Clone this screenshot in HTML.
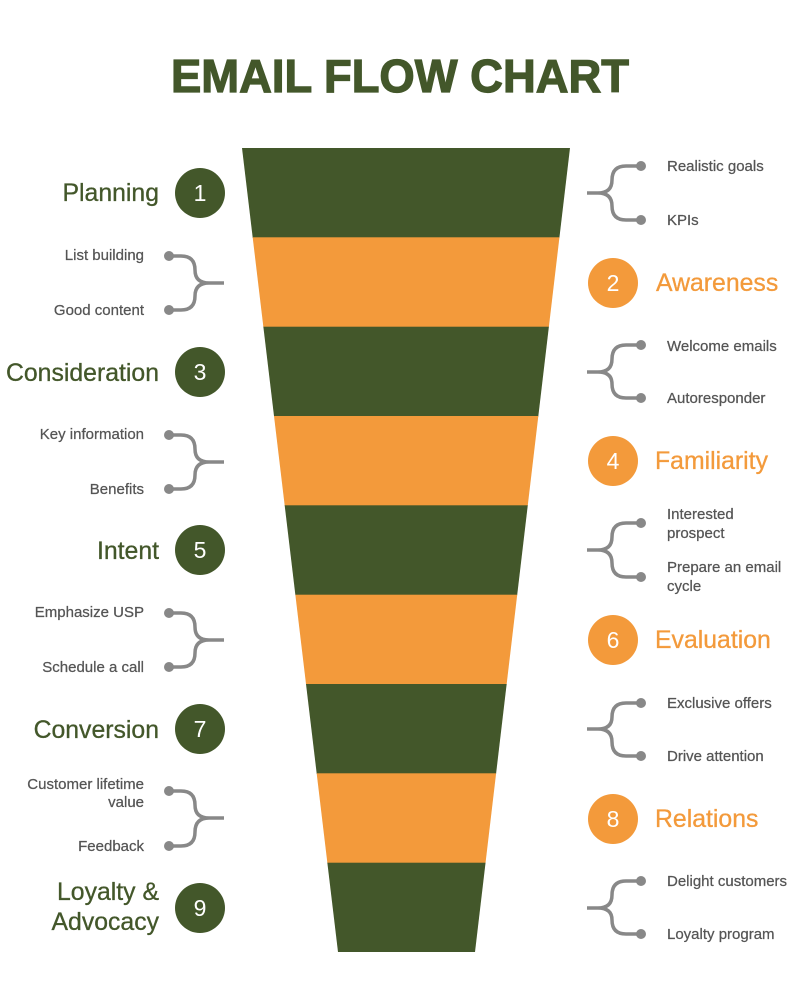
<!DOCTYPE html>
<html><head><meta charset="utf-8"><style>
html,body{margin:0;padding:0;background:#fff;}
svg{display:block;}
text{font-family:"Liberation Sans",sans-serif;}
.h{font-size:24.8px;}
.g{fill:#43572a;stroke:#43572a;stroke-width:0.3;}
.o{fill:#f39a3b;stroke:#f39a3b;stroke-width:0.3;}
.s{font-size:15px;fill:#555;stroke:#555;stroke-width:0.25;}
.n{font-size:23px;fill:#fff;text-anchor:middle;}
.b{fill:none;stroke:#888;stroke-width:3.5;}
.d{fill:#888;}
</style></head><body>
<svg width="800" height="1000" viewBox="0 0 800 1000">
<text x="400" y="92" text-anchor="middle" font-size="46" font-weight="bold" fill="#43572a" stroke="#43572a" stroke-width="1.2" textLength="458" lengthAdjust="spacingAndGlyphs">EMAIL FLOW CHART</text>
<defs><clipPath id="f"><polygon points="242,148 570,148 475,952 338,952"/></clipPath></defs>
<g clip-path="url(#f)">
<rect x="0" y="148" width="800" height="90" fill="#43572a"/>
<rect x="0" y="237.3" width="800" height="90" fill="#f39a3b"/>
<rect x="0" y="326.7" width="800" height="90" fill="#43572a"/>
<rect x="0" y="416" width="800" height="90" fill="#f39a3b"/>
<rect x="0" y="505.3" width="800" height="90" fill="#43572a"/>
<rect x="0" y="594.7" width="800" height="90" fill="#f39a3b"/>
<rect x="0" y="684" width="800" height="90" fill="#43572a"/>
<rect x="0" y="773.3" width="800" height="90" fill="#f39a3b"/>
<rect x="0" y="862.7" width="800" height="90" fill="#43572a"/>
</g>

<text class="h g" x="159" y="201" text-anchor="end">Planning</text>
<circle cx="200" cy="193" r="25" fill="#43572a"/><text class="n" x="200" y="201">1</text>
<text class="h g" x="159" y="381" text-anchor="end">Consideration</text>
<circle cx="200" cy="372" r="25" fill="#43572a"/><text class="n" x="200" y="380">3</text>
<text class="h g" x="159" y="559" text-anchor="end">Intent</text>
<circle cx="200" cy="550" r="25" fill="#43572a"/><text class="n" x="200" y="558">5</text>
<text class="h g" x="159" y="738" text-anchor="end">Conversion</text>
<circle cx="200" cy="729" r="25" fill="#43572a"/><text class="n" x="200" y="737">7</text>
<text class="h g" x="159" y="900" text-anchor="end">Loyalty &amp;</text>
<text class="h g" x="159" y="930" text-anchor="end">Advocacy</text>
<circle cx="200" cy="908" r="25" fill="#43572a"/><text class="n" x="200" y="916">9</text>

<circle cx="613" cy="283" r="25" fill="#f39a3b"/><text class="n" x="613" y="291">2</text>
<text class="h o" x="656" y="291">Awareness</text>
<circle cx="613" cy="461" r="25" fill="#f39a3b"/><text class="n" x="613" y="469">4</text>
<text class="h o" x="655" y="469">Familiarity</text>
<circle cx="613" cy="640" r="25" fill="#f39a3b"/><text class="n" x="613" y="648">6</text>
<text class="h o" x="655" y="648">Evaluation</text>
<circle cx="613" cy="819" r="25" fill="#f39a3b"/><text class="n" x="613" y="827">8</text>
<text class="h o" x="655" y="827">Relations</text>

<g>
<path class="b" d="M169,256 H181 Q195,256 195,270 Q195,283 209,283 H224 M169,310 H181 Q195,310 195,296 Q195,283 209,283"/>
<circle class="d" cx="169" cy="256" r="5"/><circle class="d" cx="169" cy="310" r="5"/>
<text class="s" x="144" y="260" text-anchor="end">List building</text>
<text class="s" x="144" y="315" text-anchor="end">Good content</text>

<path class="b" d="M169,435 H181 Q195,435 195,449 Q195,462 209,462 H224 M169,489 H181 Q195,489 195,475 Q195,462 209,462"/>
<circle class="d" cx="169" cy="435" r="5"/><circle class="d" cx="169" cy="489" r="5"/>
<text class="s" x="144" y="439" text-anchor="end">Key information</text>
<text class="s" x="144" y="494" text-anchor="end">Benefits</text>

<path class="b" d="M169,613 H181 Q195,613 195,627 Q195,640 209,640 H224 M169,667 H181 Q195,667 195,653 Q195,640 209,640"/>
<circle class="d" cx="169" cy="613" r="5"/><circle class="d" cx="169" cy="667" r="5"/>
<text class="s" x="144" y="617" text-anchor="end">Emphasize USP</text>
<text class="s" x="144" y="672" text-anchor="end">Schedule a call</text>

<path class="b" d="M169,791 H181 Q195,791 195,805 Q195,818 209,818 H224 M169,846 H181 Q195,846 195,832 Q195,818 209,818"/>
<circle class="d" cx="169" cy="791" r="5"/><circle class="d" cx="169" cy="846" r="5"/>
<text class="s" x="144" y="789" text-anchor="end">Customer lifetime</text>
<text class="s" x="144" y="807" text-anchor="end">value</text>
<text class="s" x="144" y="851" text-anchor="end">Feedback</text>
</g>

<g>
<path class="b" d="M641,166 H626 Q612,166 612,180 Q612,193 598,193 H587 M641,220 H626 Q612,220 612,206 Q612,193 598,193"/>
<circle class="d" cx="641" cy="166" r="5"/><circle class="d" cx="641" cy="220" r="5"/>
<text class="s" x="667" y="171">Realistic goals</text>
<text class="s" x="667" y="225">KPIs</text>

<path class="b" d="M641,345 H626 Q612,345 612,359 Q612,372 598,372 H587 M641,398 H626 Q612,398 612,384 Q612,372 598,372"/>
<circle class="d" cx="641" cy="345" r="5"/><circle class="d" cx="641" cy="398" r="5"/>
<text class="s" x="667" y="351">Welcome emails</text>
<text class="s" x="667" y="403">Autoresponder</text>

<path class="b" d="M641,523 H626 Q612,523 612,537 Q612,550 598,550 H587 M641,577 H626 Q612,577 612,563 Q612,550 598,550"/>
<circle class="d" cx="641" cy="523" r="5"/><circle class="d" cx="641" cy="577" r="5"/>
<text class="s" x="667" y="519">Interested</text>
<text class="s" x="667" y="538">prospect</text>
<text class="s" x="667" y="572">Prepare an email</text>
<text class="s" x="667" y="591">cycle</text>

<path class="b" d="M641,703 H626 Q612,703 612,717 Q612,729 598,729 H587 M641,756 H626 Q612,756 612,742 Q612,729 598,729"/>
<circle class="d" cx="641" cy="703" r="5"/><circle class="d" cx="641" cy="756" r="5"/>
<text class="s" x="667" y="708">Exclusive offers</text>
<text class="s" x="667" y="761">Drive attention</text>

<path class="b" d="M641,881 H626 Q612,881 612,895 Q612,908 598,908 H587 M641,934 H626 Q612,934 612,920 Q612,908 598,908"/>
<circle class="d" cx="641" cy="881" r="5"/><circle class="d" cx="641" cy="934" r="5"/>
<text class="s" x="667" y="886">Delight customers</text>
<text class="s" x="667" y="939">Loyalty program</text>
</g>
</svg>
</body></html>
